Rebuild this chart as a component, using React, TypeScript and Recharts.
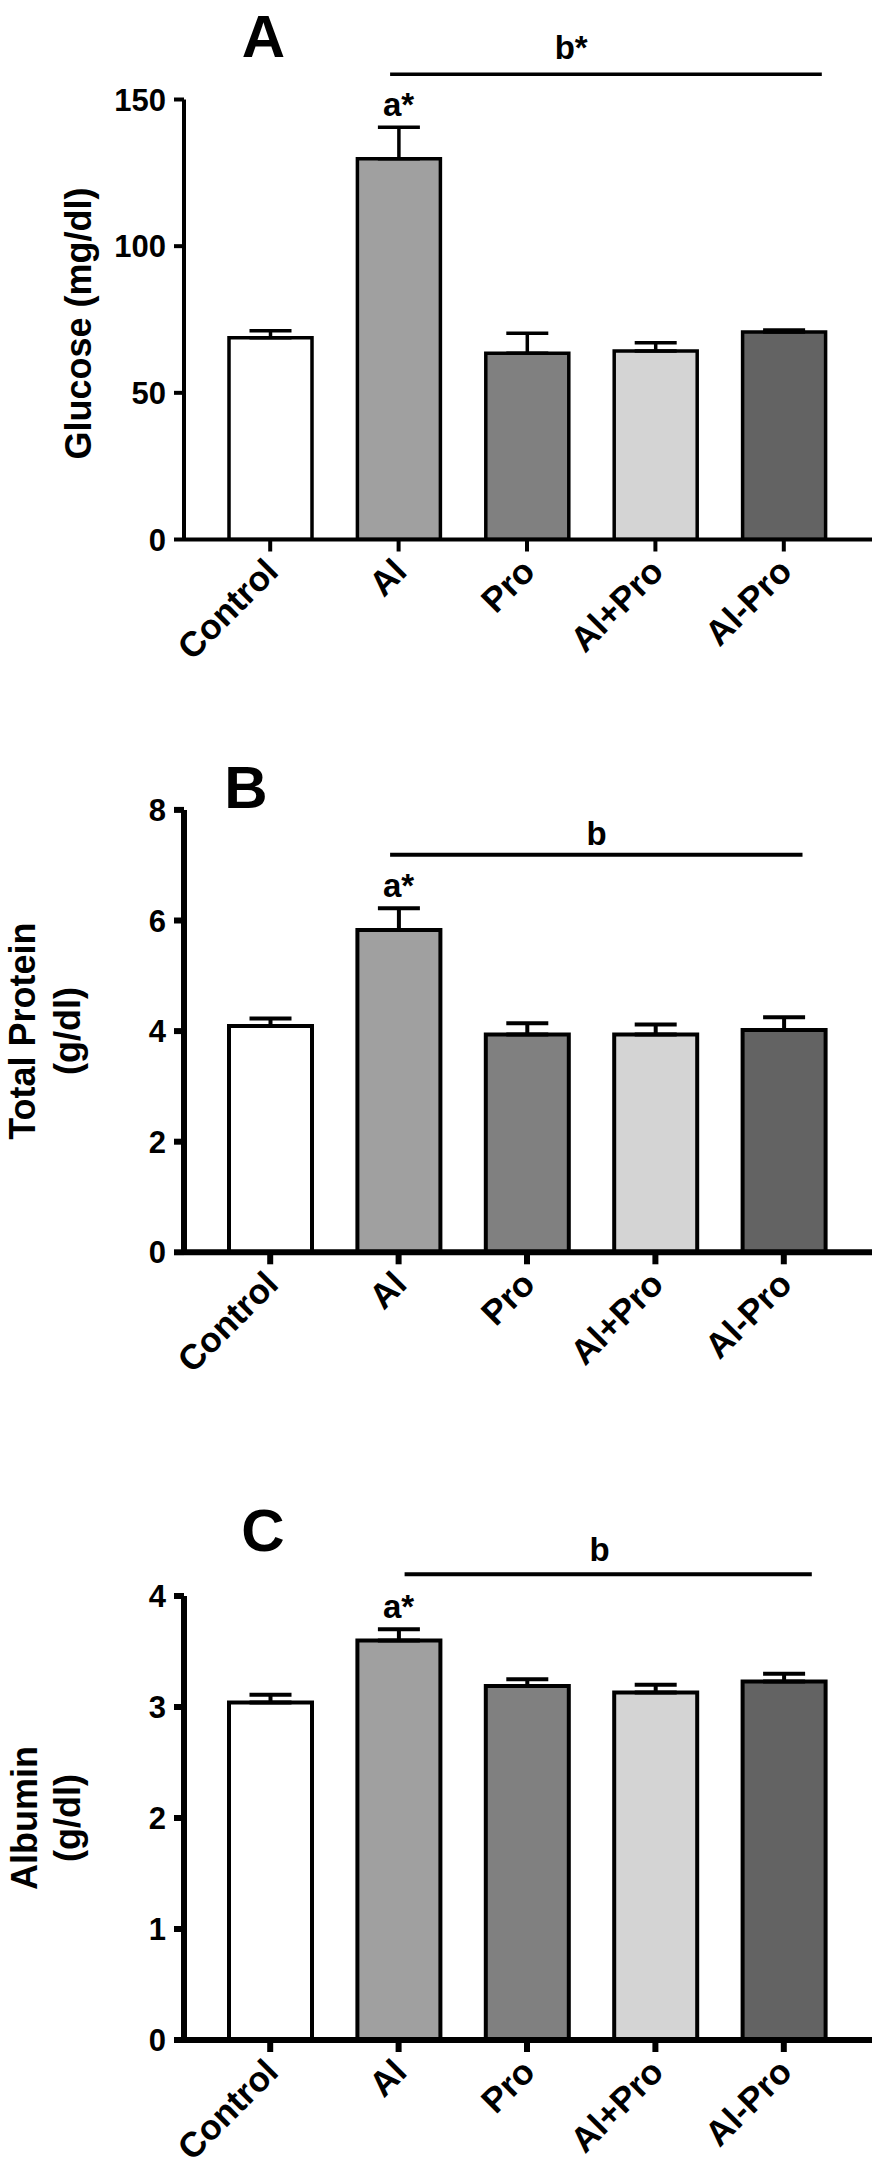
import React from 'react';
import { BarChart, Bar, XAxis, YAxis, ErrorBar, Cell, ReferenceLine, ReferenceDot } from 'recharts';

const FONT = '"Liberation Sans", Arial, Helvetica, sans-serif';

// Categories and bar fills
const groups = ['Control', 'Al', 'Pro', 'Al+Pro', 'Al-Pro'];
const barColors = ['#ffffff', '#a0a0a0', '#808080', '#d4d4d4', '#636363'];

// Panel A – Glucose (mg/dl)
const glucose = [68.8, 129.8, 63.5, 64.3, 70.7];
const glucoseErr = [2.4, 10.7, 6.8, 2.8, 0.7];
const glucoseTicks = [0, 50, 100, 150];

// Panel B – Total Protein (g/dl)
const protein = [4.09, 5.83, 3.94, 3.94, 4.02];
const proteinErr = [0.14, 0.39, 0.2, 0.18, 0.23];
const proteinTicks = [0, 2, 4, 6, 8];

// Panel C – Albumin (g/dl)
const albumin = [3.04, 3.6, 3.19, 3.13, 3.23];
const albuminErr = [0.07, 0.1, 0.06, 0.07, 0.07];
const albuminTicks = [0, 1, 2, 3, 4];

// Significance annotations (height of the bracket line in data units)
const sigA = { star: 'a*', line: 'b*', lineY: 158.6 };
const sigB = { star: 'a*', line: 'b', lineY: 7.19 };
const sigC = { star: 'a*', line: 'b', lineY: 4.195 };

const panels = [
  {
    letter: 'A', values: glucose, errs: glucoseErr, ticks: glucoseTicks, sig: sigA,
    ylabel: ['Glucose (mg/dl)'], ylabelX: [91], ylabelDy: 4,
    top: 0, height: 720, mTop: 99.5, mBottom: 80.5,
    axisW: 4, barW: 3.5, lineW: 3.5, ext: [-8.5, 38], lblDx: -20, lblOff: 15,
    letterX: 263.5, letterY: 56.7,
  },
  {
    letter: 'B', values: protein, errs: proteinErr, ticks: proteinTicks, sig: sigB,
    ylabel: ['Total Protein', '(g/dl)'], ylabelX: [35, 80], ylabelDy: 0,
    top: 720, height: 720, mTop: 89.9, mBottom: 87.7,
    axisW: 6, barW: 4, lineW: 4, ext: [-8.5, 18.7], lblDx: 5.5, lblOff: 10,
    letterX: 246, letterY: 808,
  },
  {
    letter: 'C', values: albumin, errs: albuminErr, ticks: albuminTicks, sig: sigC,
    ylabel: ['Albumin', '(g/dl)'], ylabelX: [37, 80], ylabelDy: 0,
    top: 1440, height: 738, mTop: 156, mBottom: 38,
    axisW: 6, barW: 4, lineW: 4, ext: [6, 28], lblDx: 8.5, lblOff: 13,
    letterX: 263, letterY: 1551,
  },
];

const XTick = (props: any) => {
  const { x, y, payload } = props;
  return (
    <g transform={`translate(${x + 10},${y + 20}) rotate(-45)`}>
      <text textAnchor="end" fontSize={35} fontWeight={700} fontFamily={FONT} fill="#000">
        {payload.value}
      </text>
    </g>
  );
};

function Panel({ p }: { p: any }) {
  const data = groups.map((g, i) => ({ name: g, value: p.values[i], err: [0, p.errs[i]] }));
  const yMax = p.ticks[p.ticks.length - 1];
  const yLabel = (lp: any) => {
    const vb = lp && lp.viewBox ? lp.viewBox : { y: p.mTop, height: 440 };
    const cy = vb.y + vb.height / 2 + p.ylabelDy;
    return (
      <g>
        {p.ylabel.map((t: string, i: number) => (
          <text
            key={i}
            x={p.ylabelX[i]}
            y={cy}
            transform={`rotate(-90, ${p.ylabelX[i]}, ${cy})`}
            textAnchor="middle"
            fontSize={36}
            fontWeight={700}
            fontFamily={FONT}
            fill="#000"
          >
            {t}
          </text>
        ))}
      </g>
    );
  };
  return (
    <div style={{ position: 'absolute', left: 0, top: p.top }}>
      <BarChart
        width={894}
        height={p.height}
        data={data}
        margin={{ top: p.mTop, right: 22, bottom: p.mBottom, left: 0 }}
      >
        <XAxis
          dataKey="name"
          interval={0}
          padding={{ left: 22, right: 24 }}
          height={100}
          axisLine={{ stroke: '#000', strokeWidth: p.axisW }}
          tickLine={{ stroke: '#000', strokeWidth: p.axisW }}
          tickSize={12}
          tick={(tp: any) => <XTick {...tp} />}
        />
        <YAxis
          width={184}
          type="number"
          domain={[0, yMax]}
          ticks={p.ticks}
          interval={0}
          allowDataOverflow
          axisLine={{ stroke: '#000', strokeWidth: p.axisW }}
          tickLine={{ stroke: '#000', strokeWidth: p.axisW }}
          tickSize={10}
          tickMargin={8}
          tick={{ fill: '#000', fontSize: 31, fontWeight: 700, fontFamily: FONT }}
          label={yLabel}
        />
        <Bar dataKey="value" barSize={83} stroke="#000" strokeWidth={p.barW} isAnimationActive={false}>
          {data.map((d, i) => (
            <Cell key={d.name} fill={barColors[i]} />
          ))}
          <ErrorBar dataKey="err" width={21} stroke="#000" strokeWidth={p.barW} direction="y" isAnimationActive={false} />
        </Bar>
        <ReferenceDot
          x={groups[1]}
          y={p.values[1] + p.errs[1]}
          r={0}
          stroke="none"
          fill="none"
          ifOverflow="visible"
          label={(lp: any) => {
            const vb = lp.viewBox || { x: 0, y: 0, width: 0 };
            return (
              <text
                x={vb.x + (vb.width || 0) / 2}
                y={vb.y - 11}
                textAnchor="middle"
                fontSize={33}
                fontWeight={700}
                fontFamily={FONT}
                fill="#000"
              >
                {p.sig.star}
              </text>
            );
          }}
        />
        <ReferenceLine
          segment={[
            { x: groups[1], y: p.sig.lineY },
            { x: groups[4], y: p.sig.lineY },
          ]}
          ifOverflow="visible"
          stroke="#000"
          strokeWidth={p.lineW}
          shape={(sp: any) => (
            <line
              x1={sp.x1 + p.ext[0]}
              y1={sp.y1}
              x2={sp.x2 + p.ext[1]}
              y2={sp.y2}
              stroke="#000"
              strokeWidth={p.lineW}
            />
          )}
          label={(lp: any) => {
            const vb = lp.viewBox || { x: 0, y: 0, width: 0 };
            return (
              <text
                x={vb.x + vb.width / 2 + p.lblDx}
                y={vb.y - p.lblOff}
                textAnchor="middle"
                fontSize={33}
                fontWeight={700}
                fontFamily={FONT}
                fill="#000"
              >
                {p.sig.line}
              </text>
            );
          }}
        />
      </BarChart>
    </div>
  );
}

export default function App() {
  return (
    <div style={{ position: 'absolute', left: 0, top: 0, width: 894, height: 2178, background: '#fff' }}>
      {panels.map((p) => (
        <Panel key={p.letter} p={p} />
      ))}
      <svg width={894} height={2178} style={{ position: 'absolute', left: 0, top: 0, pointerEvents: 'none' }}>
        {panels.map((p) => (
          <text
            key={p.letter}
            x={p.letterX}
            y={p.letterY}
            textAnchor="middle"
            fontSize={60}
            fontWeight={700}
            fontFamily={FONT}
            fill="#000"
          >
            {p.letter}
          </text>
        ))}
      </svg>
    </div>
  );
}
